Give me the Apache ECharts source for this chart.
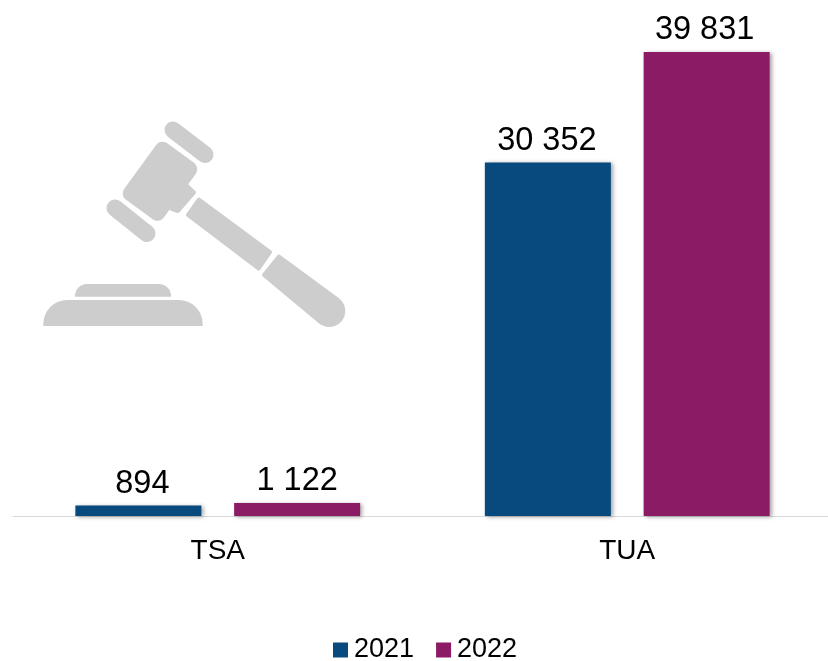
<!DOCTYPE html>
<html>
<head>
<meta charset="utf-8">
<style>
    html,body{margin:0;padding:0;background:#fff;}
    #chart{width:828px;height:661px;}
</style>
<script src="https://cdn.jsdelivr.net/npm/echarts@6/dist/echarts.min.js"></script>
</head>
<body>
<div id="chart"></div>
<script>
const categories = ['TSA', 'TUA'];
const values2021 = [894, 30352];
const values2022 = [1122, 39831];

const fontName = '"Liberation Sans", Arial, sans-serif';
const blue = '#084a7e';
const purple = '#8a1b64';
const gavelGrey = '#cdcdcd';

function formatNumber(v){//thousands separated by a space
    return String(v).replace(/\B(?=(\d{3})+$)/g, ' ');
}

function makeSeries(name, data, color, labelShift){
    return {
        name: name,
        type: 'bar',
        data: data.map((v, i) => ({value: v, label: {offset: [labelShift[i], 0]}})),
        barWidth: 126,
        barGap: '26%',
        itemStyle: {
            color: color,
            shadowColor: 'rgba(0,0,0,0.35)',
            shadowBlur: 4,
            shadowOffsetX: 2,
            shadowOffsetY: 1
        },
        label: {
            show: true,
            position: 'top',
            distance: 5,
            fontFamily: fontName,
            fontSize: 32.5,
            color: '#000',
            formatter: p => formatNumber(p.value)
        }
    };
}

// decoration behind the bars
const gavel = [
    {type: 'rect', shape: {x: 43.3, y: 300, width: 159.4, height: 26, r: [24, 24, 0, 0]}},
    {type: 'rect', shape: {x: 75, y: 284, width: 96, height: 12.7, r: [12, 12, 0, 0]}},
    {type: 'rect', x: 160, y: 181.3, rotation: -0.63, shape: {x: -24.5, y: -35, width: 49, height: 70, r: 8}},
    {type: 'polygon', shape: {points: [[186, 185], [194, 192.5], [178, 211], [172, 209], [165, 200]]}, stroke: true},
    {type: 'polygon', shape: {points: [[199, 199.5], [270, 252], [258.5, 268.5], [188, 215]]}, stroke: true},
    {type: 'polygon', shape: {points: [[279, 256.5], [337.5, 299.6], [321, 322.4], [264, 275]]}, stroke: true},
    {type: 'circle', shape: {cx: 329.3, cy: 311, r: 16}},
    {type: 'line', shape: {x1: 173, y1: 130, x2: 205, y2: 154.5}, line: true},
    {type: 'line', shape: {x1: 115, y1: 208, x2: 147, y2: 233.5}, line: true}
].map(g => {
    const el = {type: g.type, shape: g.shape, z: -1, silent: true};
    if(g.x !== undefined){
        el.x = g.x;
        el.y = g.y;
        el.rotation = g.rotation;
    }
    if(g.line){
        el.style = {stroke: gavelGrey, lineWidth: 17, lineCap: 'round'};
    }else if(g.stroke){
        el.style = {fill: gavelGrey, stroke: gavelGrey, lineWidth: 4, lineJoin: 'round'};
    }else{
        el.style = {fill: gavelGrey};
    }
    return el;
});

const chart = echarts.init(document.getElementById('chart'), null, {renderer: 'canvas'});
chart.setOption({
    animation: false,
    backgroundColor: '#fff',
    textStyle: {fontFamily: fontName},
    legend: {
        left: 333,
        top: 636.5,
        padding: 0,
        itemWidth: 15,
        itemHeight: 15,
        itemGap: 22,
        icon: 'rect',
        selectedMode: false,
        textStyle: {fontFamily: fontName, fontSize: 27, color: '#000', padding: [0, 0, 0, 1]},
        data: ['2021', '2022']
    },
    grid: {left: 13, top: 3.4, width: 819, height: 512.6, containLabel: false, outerBoundsMode: 'none'},
    xAxis: {
        type: 'category',
        data: categories,
        axisTick: {show: false},
        axisLine: {lineStyle: {color: '#d9d9d9', width: 1}},
        axisLabel: {
            margin: 21,
            fontFamily: fontName,
            fontSize: 28,
            color: '#000'
        }
    },
    yAxis: {type: 'value', min: 0, max: 44000, show: false},
    graphic: {elements: gavel},
    series: [
        makeSeries('2021', values2021, blue, [4, -1]),
        makeSeries('2022', values2022, purple, [0, -2])
    ]
});
</script>
</body>
</html>
